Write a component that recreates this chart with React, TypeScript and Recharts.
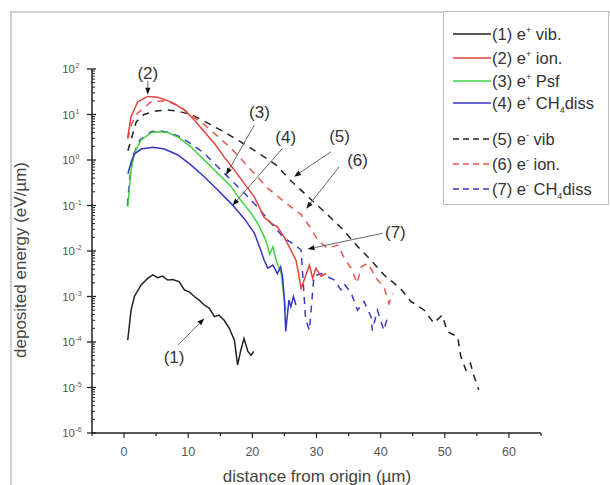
import React from 'react';
import { LineChart, Line, XAxis, YAxis, ReferenceDot, ReferenceLine } from 'recharts';

// ---- data (x in µm, y in eV/µm) ----
const s1X = [0.57, 1.09, 1.61, 2.65, 3.69, 4.47, 5.24, 6.0, 6.8, 7.6, 8.6, 9.4, 10.2, 10.96, 11.7, 12.5, 13.3, 14.1, 14.8, 15.6, 16.4, 17.2, 17.7, 18.2, 18.7, 19.3, 19.8, 20.2];
const s1Y = [1.1e-4, 5.0e-4, 1.0e-3, 1.8e-3, 2.5e-3, 3.0e-3, 2.6e-3, 2.8e-3, 2.3e-3, 2.35e-3, 2.1e-3, 1.4e-3, 1.25e-3, 1.0e-3, 8.3e-4, 6.5e-4, 5.5e-4, 3.6e-4, 3.9e-4, 3.0e-4, 2.0e-4, 1.1e-4, 3.1e-5, 6.6e-5, 1.2e-4, 6.2e-5, 5.1e-5, 6.2e-5];

const s2X = [0.57, 1.09, 2.13, 3.69, 5.24, 7.32, 9.4, 10.96, 12.5, 14.1, 15.6, 17.2, 18.7, 20.3, 21.3, 21.8, 22.9, 23.9, 25.0, 26.0, 26.8, 27.2, 27.6, 28.9, 29.4, 29.9, 30.7, 31.5];
const s2Y = [3.2, 8.9, 19, 25, 24, 19, 12.6, 7.6, 4.2, 2.3, 1.17, 0.6, 0.31, 0.155, 0.079, 0.056, 0.041, 0.034, 0.02, 0.0105, 0.0063, 0.0032, 0.0015, 0.0049, 0.0025, 0.0042, 0.0028, 0.0032];

const s3X = [0.57, 1.09, 1.61, 2.65, 4.2, 5.2, 6.8, 8.4, 10.4, 12.5, 14.6, 16.7, 18.2, 19.8, 20.8, 21.9, 22.4, 22.7, 23.2, 23.7, 24.5, 25.0, 25.2];
const s3Y = [0.093, 0.6, 1.4, 2.75, 4.0, 4.2, 4.0, 3.2, 1.95, 1.0, 0.51, 0.26, 0.13, 0.068, 0.041, 0.02, 0.0126, 0.0085, 0.0125, 0.0063, 0.0032, 0.00083, 0.0005];

const s4X = [0.6, 1.1, 1.6, 2.65, 4.5, 6.3, 8.4, 10.4, 12.5, 14.6, 16.7, 18.7, 20.3, 21.3, 21.8, 22.4, 23.2, 23.9, 24.4, 24.7, 25.0, 25.2, 25.7, 26.0, 26.4, 26.8];
const s4Y = [0.5, 0.9, 1.35, 1.74, 1.9, 1.74, 1.29, 0.78, 0.43, 0.22, 0.11, 0.052, 0.025, 0.0105, 0.0065, 0.0042, 0.0049, 0.0032, 0.0045, 0.0028, 0.00083, 0.00017, 0.00083, 0.0006, 0.001, 0.00065];

const s5X = [0.6, 1.9, 3.1, 5.0, 6.8, 8.5, 10.4, 12.7, 15.5, 18.2, 21.0, 23.7, 26.0, 28.6, 31.7, 33.8, 36.4, 38.5, 40.5, 43.1, 44.7, 46.8, 48.3, 49.6, 50.4, 52.0, 52.5, 53.3, 54.0, 54.6, 55.3];
const s5Y = [1.6, 6.9, 10, 12, 12.6, 11.7, 10, 6.9, 4.2, 2.5, 1.4, 0.78, 0.35, 0.16, 0.063, 0.033, 0.0126, 0.0063, 0.003, 0.0015, 7.8e-4, 5.0e-4, 2.6e-4, 3.9e-4, 1.7e-4, 1.3e-4, 4.8e-5, 2.4e-5, 3.4e-5, 1.7e-5, 8.9e-6];

const s6X = [0.57, 1.2, 2.1, 4.2, 6.3, 8.4, 10.4, 12.5, 14.6, 16.7, 18.2, 19.8, 22.4, 25.0, 27.6, 28.9, 30.2, 31.7, 33.3, 34.5, 35.5, 36.3, 37.0, 38.0, 39.5, 40.5, 41.3, 41.9];
const s6Y = [2.9, 6.3, 10.7, 19, 20, 16, 9.8, 6.0, 3.3, 1.8, 1.07, 0.6, 0.24, 0.12, 0.063, 0.035, 0.0174, 0.0115, 0.0135, 0.0063, 0.004, 0.00195, 0.0045, 0.0054, 0.0023, 0.00166, 0.0007, 0.00117];

const s7X = [0.5, 0.9, 1.4, 2.5, 4.2, 5.5, 7.0, 8.6, 10.4, 12.5, 14.6, 16.7, 18.7, 20.8, 22.9, 25.0, 26.5, 27.6, 28.3, 28.9, 29.6, 30.7, 32.8, 33.8, 34.3, 35.4, 36.4, 37.4, 38.5, 38.7, 39.5, 40.5, 41.1];
const s7Y = [0.1, 0.4, 1.26, 2.8, 4.2, 4.4, 4.0, 3.3, 2.3, 1.4, 0.71, 0.36, 0.19, 0.093, 0.041, 0.019, 0.014, 0.0105, 3.2e-4, 1.8e-4, 0.0028, 0.0032, 0.0023, 0.0014, 0.0019, 0.0012, 5.0e-4, 7.8e-4, 3.6e-4, 1.8e-4, 5.0e-4, 1.8e-4, 3.6e-4];

const xTicks = [-5, 0, 5, 10, 15, 20, 25, 30, 35, 40, 45, 50, 55, 60, 65];
const yDecades = [-6, -5, -4, -3, -2, -1, 0, 1, 2];

// annotation labels and arrows (data coordinates)
const annLabels = ['(1)', '(2)', '(3)', '(4)', '(5)', '(6)', '(7)'];
const annLabelX = [7.8, 3.7, 21.1, 25.2, 33.6, 36.4, 42.3];
const annLabelY = [4.8e-5, 80, 11.5, 3.2, 3.4, 1.0, 0.026];
const annFromX = [8.4, 3.7, 20.3, 24.7, 32.2, 33.5, 40.3];
const annFromY = [8.5e-5, 54, 5.9, 1.8, 1.5, 0.7, 0.0245];
const annToX = [12.5, 3.7, 15.9, 16.9, 26.5, 28.4, 28.6];
const annToY = [3.3e-4, 27, 0.47, 0.1, 0.43, 0.085, 0.011];

const series = [
  { key: 's1', num: '(1) e', sign: '+', rest: ' vib.', sub: '', tail: '', color: '#222222', dash: '', x: s1X, y: s1Y },
  { key: 's2', num: '(2) e', sign: '+', rest: ' ion.', sub: '', tail: '', color: '#e2433c', dash: '', x: s2X, y: s2Y },
  { key: 's3', num: '(3) e', sign: '+', rest: ' Psf', sub: '', tail: '', color: '#3fd23f', dash: '', x: s3X, y: s3Y },
  { key: 's4', num: '(4) e', sign: '+', rest: ' CH', sub: '4', tail: 'diss', color: '#3535c8', dash: '', x: s4X, y: s4Y },
  { key: 's5', num: '(5) e', sign: '-', rest: ' vib', sub: '', tail: '', color: '#222222', dash: '7 6', x: s5X, y: s5Y },
  { key: 's6', num: '(6) e', sign: '-', rest: ' ion.', sub: '', tail: '', color: '#e8574e', dash: '7 6', x: s6X, y: s6Y },
  { key: 's7', num: '(7) e', sign: '-', rest: ' CH', sub: '4', tail: 'diss', color: '#3a3ac8', dash: '7 6', x: s7X, y: s7Y },
];

const yTicks: number[] = [];
yDecades.forEach((d) => {
  if (d === 2) { yTicks.push(100); return; }
  for (let m = 1; m <= 9; m++) yTicks.push(Number((m * Math.pow(10, d)).toPrecision(3)));
});

const FONT = '"Liberation Sans", Arial, Helvetica, sans-serif';

const YTick = (p: any) => {
  const { x, y, payload } = p;
  const v = payload.value;
  const lg = Math.log10(v);
  const e = Math.round(lg);
  const major = Math.abs(lg - e) < 1e-6;
  if (major) {
    return (
      <g>
        <line x1={x - 5} x2={x + 4} y1={y} y2={y} stroke="#222" strokeWidth={1.3} />
        <text x={x - 17} y={y + 4} textAnchor="end" fontSize={11.5} fill="#555" fontFamily={FONT}>10</text>
        <text x={x - 16.5} y={y - 1} textAnchor="start" fontSize={7} fill="#555" fontFamily={FONT}>{e}</text>
      </g>
    );
  }
  return <line x1={x} x2={x + 3} y1={y} y2={y} stroke="#222" strokeWidth={1} />;
};

const XTick = (p: any) => {
  const { x, y, payload } = p;
  const v = payload.value;
  const major = v % 10 === 0;
  return (
    <g>
      <line x1={x} x2={x} y1={y} y2={y + (major ? 5 : 3)} stroke="#222" strokeWidth={1.2} />
      {major && v >= 0 && v <= 60 && (
        <text x={x} y={y + 23} textAnchor="middle" fontSize={12.5} fill="#555" fontFamily={FONT}>{v}</text>
      )}
    </g>
  );
};

const Arrow = (p: any) => {
  const { x1, y1, x2, y2 } = p;
  const ang = Math.atan2(y2 - y1, x2 - x1);
  const L = 7, W = 2.6;
  const bx = x2 - L * Math.cos(ang), by = y2 - L * Math.sin(ang);
  const px = -Math.sin(ang) * W, py = Math.cos(ang) * W;
  return (
    <g>
      <line x1={x1} y1={y1} x2={bx} y2={by} stroke="#666" strokeWidth={1} />
      <polygon points={`${x2},${y2} ${bx + px},${by + py} ${bx - px},${by - py}`} fill="#111" />
    </g>
  );
};

export default function App() {
  const lines = [...series.slice(4), ...series.slice(0, 4)];
  return (
    <div style={{ position: 'absolute', left: 0, top: 0, width: 610, height: 485, overflow: 'hidden', background: '#fff', fontFamily: FONT }}>
      <div style={{ position: 'absolute', left: 10, top: 11, width: 700, height: 600, border: '2px solid #cfcfcf' }} />
      <LineChart width={610} height={485} margin={{ top: 69, right: 69, bottom: 22, left: 32 }} style={{ position: 'absolute', left: 0, top: 0 }}>
        <XAxis dataKey="x" type="number" domain={[-5, 65]} ticks={xTicks} interval={0} allowDataOverflow
          tick={<XTick />} tickLine={false} tickSize={0} tickMargin={0} height={30} stroke="#222" strokeWidth={1.5} />
        <YAxis type="number" scale="log" domain={[1e-6, 100]} ticks={yTicks} interval={0} allowDataOverflow
          tick={<YTick />} tickLine={false} tickSize={0} tickMargin={0} width={60} stroke="#222" strokeWidth={1.5} />
        {lines.map((s) => (
          <Line key={s.key} data={s.x.map((xv, i) => ({ x: xv, y: s.y[i] }))} dataKey="y" type="linear"
            stroke={s.color} strokeWidth={1.5} strokeDasharray={s.dash || undefined} dot={false}
            isAnimationActive={false} />
        ))}
        {annLabels.map((t, i) => (
          <ReferenceLine key={'a' + i} segment={[{ x: annFromX[i], y: annFromY[i] }, { x: annToX[i], y: annToY[i] }]}
            ifOverflow="visible" shape={Arrow} />
        ))}
        {annLabels.map((t, i) => (
          <ReferenceDot key={'l' + i} x={annLabelX[i]} y={annLabelY[i]} r={2} ifOverflow="visible"
            shape={(p: any) => (
              <text x={p.cx} y={p.cy + 6} textAnchor="middle" fontSize={17} fill="#333" fontFamily={FONT}>{t}</text>
            )} />
        ))}
      </LineChart>
      <div style={{ position: 'absolute', left: 14, top: 260, width: 0, height: 0 }}>
        <div style={{ position: 'absolute', transform: 'translate(-50%,-50%) rotate(-90deg)', whiteSpace: 'nowrap', fontSize: 17, color: '#444', left: 7, top: 0 }}>
          deposited energy (eV/µm)
        </div>
      </div>
      <div style={{ position: 'absolute', left: 317, top: 477, transform: 'translate(-50%,-50%)', whiteSpace: 'nowrap', fontSize: 17, color: '#444' }}>
        distance from origin (µm)
      </div>
      <div style={{ position: 'absolute', left: 443, top: 11, width: 166, height: 194, border: '1px solid #bdbdbd', background: '#fff', boxSizing: 'border-box' }}>
        {series.map((s, i) => {
          const cy = [22, 46, 69, 91, 127, 152, 177][i];
          return (
            <div key={s.key} style={{ position: 'absolute', left: 0, top: cy - 11, height: 22, width: 166 }}>
              <svg width={40} height={22} style={{ position: 'absolute', left: 8, top: 0 }}>
                <line x1={1} x2={39} y1={11} y2={11} stroke={s.color} strokeWidth={1.6} strokeDasharray={s.dash ? '6 4' : undefined} />
              </svg>
              <div style={{ position: 'absolute', left: 48, top: 1, fontSize: 16.5, color: '#333', whiteSpace: 'nowrap', lineHeight: '20px' }}>
                {s.num}
                <sup style={{ fontSize: 9, verticalAlign: 7, lineHeight: 0 }}>{s.sign}</sup>
                {s.rest}
                {s.sub && <sub style={{ fontSize: 9, verticalAlign: -4, lineHeight: 0 }}>{s.sub}</sub>}
                {s.tail}
              </div>
            </div>
          );
        })}
      </div>
    </div>
  );
}
